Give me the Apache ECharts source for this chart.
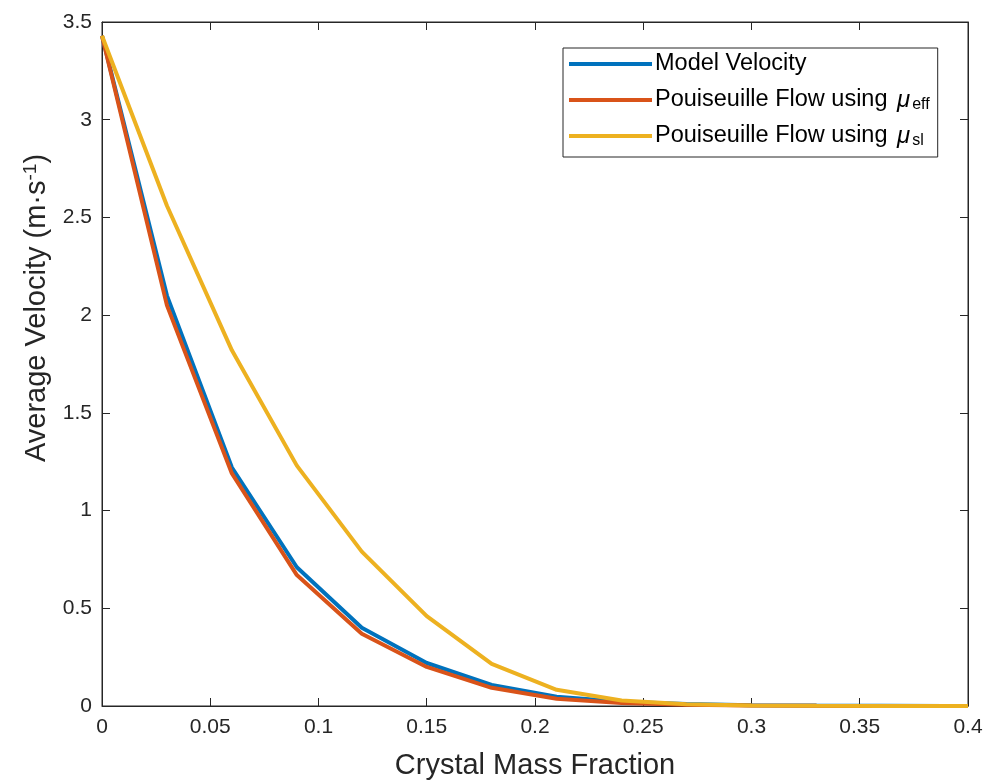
<!DOCTYPE html>
<html>
<head>
<meta charset="utf-8">
<script src="https://cdn.jsdelivr.net/npm/echarts@6/dist/echarts.min.js"></script>
<style>
  html, body { margin: 0; padding: 0; background: #fff; }
  #chart { width: 993px; height: 780px; }
</style>
</head>
<body>
<div id="chart"></div>
<script>
// Crystal mass fraction sample points
const massFraction = [0, 0.03, 0.06, 0.09, 0.12, 0.15, 0.18, 0.21, 0.24, 0.27, 0.30, 0.33, 0.36, 0.39, 0.40];

// Average velocity (m/s) for each approach
const modelVelocity = [3.43, 2.10, 1.22, 0.71, 0.40, 0.22, 0.108, 0.048, 0.022, 0.010, 0.004, 0.002, 0.001, 0.0005, 0.0003];
const poiseuilleEff = [3.43, 2.05, 1.19, 0.67, 0.37, 0.20, 0.093, 0.037, 0.015, 0.006, 0.002, 0.001, 0.0005, 0.0002, 0.0001];
const poiseuilleSl  = [3.43, 2.56, 1.82, 1.23, 0.79, 0.46, 0.215, 0.083, 0.028, 0.009, 0.003, 0.001, 0.0005, 0.0002, 0.0001];

const seriesNames = ['Model Velocity', 'Pouiseuille Flow using μeff', 'Pouiseuille Flow using μsl'];
const seriesColors = ['#0072BD', '#D95319', '#EDB120'];
const seriesValues = [modelVelocity, poiseuilleEff, poiseuilleSl];

const FONT = '"Liberation Sans", Arial, Helvetica, sans-serif';
const AXIS_COLOR = '#262626';

const chart = echarts.init(document.getElementById('chart'), null, { renderer: 'canvas' });

const series = seriesValues.map((vals, i) => ({
  name: seriesNames[i],
  type: 'line',
  data: massFraction.map((x, j) => [x, vals[j]]),
  symbol: 'none',
  smooth: false,
  lineStyle: { color: seriesColors[i], width: 4 },
  itemStyle: { color: seriesColors[i] },
  emphasis: { disabled: true },
  z: 2 + i
}));

const legendLabels = {
  'Model Velocity': 'Model Velocity',
  'Pouiseuille Flow using μeff': 'Pouiseuille Flow using {mu|μ}{sub|eff}',
  'Pouiseuille Flow using μsl': 'Pouiseuille Flow using {mu|μ}{sub|sl}'
};

const tickCommon = { show: true, inside: true, length: 8, lineStyle: { color: AXIS_COLOR } };
const lineCommon = { show: true, onZero: false, lineStyle: { color: AXIS_COLOR, width: 1 } };

const option = {
  backgroundColor: '#fff',
  animation: false,
  grid: {
    left: 102, right: 25, top: 22, bottom: 74,
    outerBoundsMode: 'none',
    containLabel: false,
    show: true, borderColor: AXIS_COLOR, borderWidth: 1, backgroundColor: '#fff'
  },
  legend: {
    data: seriesNames,
    orient: 'vertical',
    left: 563,
    top: 48,
    padding: [3, 8, 8, 6],
    itemGap: 6,
    itemWidth: 83,
    itemHeight: 4,
    icon: 'rect',
    backgroundColor: '#fff',
    borderColor: AXIS_COLOR,
    borderWidth: 1,
    borderRadius: 0,
    selectedMode: false,
    formatter: name => legendLabels[name],
    textStyle: {
      fontFamily: FONT,
      fontSize: 23.5,
      color: '#000',
      lineHeight: 26,
      padding: [0, 0, 0, -2],
      rich: {
        mu: { fontFamily: FONT, fontSize: 24, fontStyle: 'italic', color: '#000', lineHeight: 26, padding: [0, 0, 0, 3] },
        sub: { fontFamily: FONT, fontSize: 16, color: '#000', verticalAlign: 'bottom', padding: [14, 0, 0, 2], lineHeight: 26 }
      }
    }
  },
  xAxis: [
    {
      type: 'value',
      min: 0, max: 0.4, interval: 0.05,
      position: 'bottom',
      name: 'Crystal Mass Fraction',
      nameLocation: 'middle',
      nameGap: 45,
      nameTextStyle: { fontFamily: FONT, fontSize: 29, color: AXIS_COLOR },
      axisLine: lineCommon,
      axisTick: tickCommon,
      axisLabel: { fontFamily: FONT, fontSize: 21, color: AXIS_COLOR, margin: 11 },
      splitLine: { show: false }
    },
    {
      type: 'value',
      min: 0, max: 0.4, interval: 0.05,
      position: 'top',
      axisLine: lineCommon,
      axisTick: tickCommon,
      axisLabel: { show: false },
      splitLine: { show: false }
    }
  ],
  yAxis: [
    {
      type: 'value',
      min: 0, max: 3.5, interval: 0.5,
      position: 'left',
      name: 'Average Velocity (m·s{sup|-1})',
      nameLocation: 'middle',
      nameRotate: 90,
      nameGap: 50,
      nameTextStyle: {
        fontFamily: FONT, fontSize: 29, color: AXIS_COLOR,
        padding: [0, 0, 0, 112],
        rich: {
          sup: { fontFamily: FONT, fontSize: 19, color: AXIS_COLOR, verticalAlign: 'top', padding: [0, 0, 12, 0] }
        }
      },
      axisLine: lineCommon,
      axisTick: tickCommon,
      axisLabel: { fontFamily: FONT, fontSize: 21, color: AXIS_COLOR, margin: 10 },
      splitLine: { show: false }
    },
    {
      type: 'value',
      min: 0, max: 3.5, interval: 0.5,
      position: 'right',
      axisLine: lineCommon,
      axisTick: tickCommon,
      axisLabel: { show: false },
      splitLine: { show: false }
    }
  ],
  series: series
};

chart.setOption(option);
</script>
</body>
</html>
